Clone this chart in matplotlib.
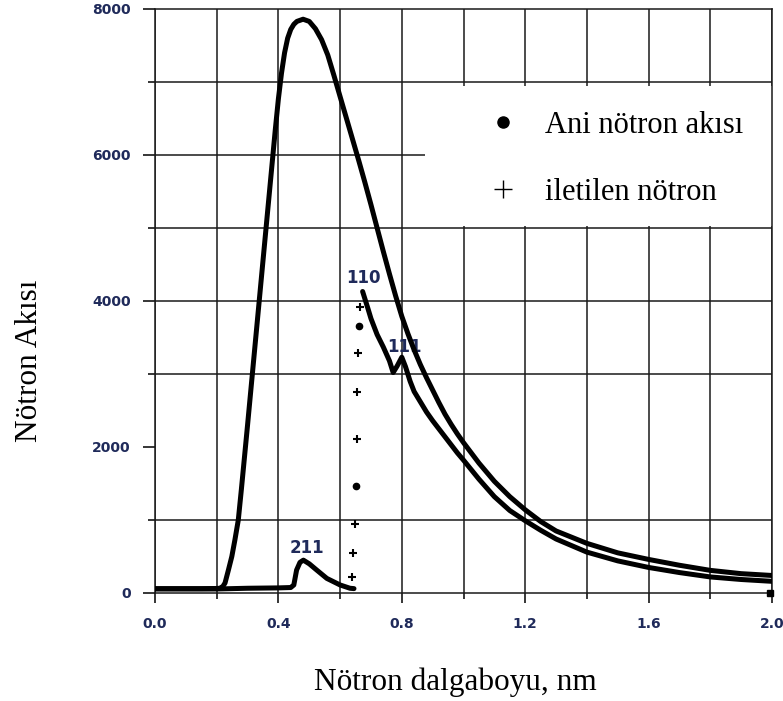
import matplotlib
matplotlib.use("Agg")
import matplotlib.pyplot as plt
from matplotlib.lines import Line2D
from matplotlib.patches import Rectangle
from matplotlib.ticker import MultipleLocator, FormatStrFormatter

# ---------------- data ----------------
# Prompt neutron flux ("Ani nötron akısı")
prompt_x = [0.00, 0.05, 0.10, 0.15, 0.20, 0.21, 0.22, 0.227, 0.238, 0.249, 0.259,
            0.27, 0.28, 0.29, 0.30, 0.31, 0.32, 0.33, 0.34, 0.35, 0.36,
            0.37, 0.38, 0.39, 0.40, 0.41, 0.42, 0.43, 0.44, 0.45, 0.46,
            0.48, 0.50, 0.52, 0.54, 0.56, 0.58, 0.60, 0.62, 0.64, 0.66,
            0.68, 0.70, 0.72, 0.74, 0.76, 0.78, 0.80, 0.82, 0.84, 0.86,
            0.88, 0.90, 0.92, 0.94, 0.96, 0.98, 1.00, 1.05, 1.10, 1.15,
            1.20, 1.25, 1.30, 1.40, 1.50, 1.60, 1.70, 1.80, 1.90, 2.00]
prompt_y = [60, 60, 60, 60, 62, 65, 90, 137, 315, 500, 727,
            1000, 1420, 1860, 2300, 2750, 3200, 3650, 4100, 4550, 5000,
            5450, 5900, 6350, 6770, 7120, 7400, 7600, 7720, 7790, 7830,
            7860, 7830, 7730, 7580, 7370, 7090, 6800, 6510, 6220, 5930,
            5630, 5320, 5000, 4680, 4370, 4070, 3790, 3550, 3330, 3130,
            2950, 2780, 2610, 2450, 2310, 2180, 2060, 1780, 1530, 1320,
            1140, 980, 850, 680, 550, 460, 380, 310, 265, 240]

# Transmitted neutrons ("iletilen nötron") - below the 110 Bragg edge
trans_low_x = [0.00, 0.10, 0.20, 0.30, 0.40, 0.44, 0.45, 0.459, 0.470, 0.481,
               0.500, 0.524, 0.557, 0.600, 0.632, 0.645]
trans_low_y = [55, 55, 55, 65, 70, 75, 110, 315, 420, 450,
               400, 315, 200, 110, 65, 60]
# Transmitted neutrons - above the 110 Bragg edge
trans_high_x = [0.673, 0.69, 0.70, 0.72, 0.74, 0.76, 0.772, 0.785, 0.80, 0.812,
                0.827, 0.84, 0.86, 0.88, 0.90, 0.92, 0.94, 0.96, 0.98, 1.00,
                1.05, 1.10, 1.15, 1.20, 1.25, 1.30, 1.40, 1.50, 1.60, 1.70,
                1.80, 1.90, 2.00]
trans_high_y = [4130, 3900, 3760, 3540, 3370, 3180, 3020, 3110, 3230, 3100,
                2900, 2760, 2620, 2480, 2360, 2250, 2140, 2030, 1920, 1820,
                1560, 1320, 1130, 990, 860, 740, 560, 440, 350, 280,
                220, 185, 160]
# isolated points on the Bragg edge
edge_plus_x = [0.665, 0.659, 0.656, 0.654, 0.648, 0.643, 0.640]
edge_plus_y = [3920, 3290, 2760, 2110, 940, 548, 224]
edge_dot_x = [0.661, 0.651]
edge_dot_y = [3660, 1470]
end_x = [1.995]
end_y = [0]

# Bragg peak labels
peak_labels = ["110", "111", "211"]
peak_x = [0.677, 0.807, 0.494]
peak_y = [4320, 3375, 617]

legend_labels = ["Ani nötron akısı", "iletilen nötron"]

# ---------------- figure ----------------
W, H = 783, 701
fig = plt.figure(figsize=(W / 100, H / 100), dpi=100)
ax = fig.add_axes([155 / W, 1 - 593 / H, 617 / W, 584 / H])

ax.set_xlim(0, 2.0)
ax.set_ylim(0, 8000)
ax.xaxis.set_major_locator(MultipleLocator(0.4))
ax.xaxis.set_minor_locator(MultipleLocator(0.2))
ax.yaxis.set_major_locator(MultipleLocator(2000))
ax.yaxis.set_minor_locator(MultipleLocator(1000))
ax.xaxis.set_major_formatter(FormatStrFormatter("%.1f"))
ax.yaxis.set_major_formatter(FormatStrFormatter("%d"))

grid_kw = dict(color="#1a1a1a", linewidth=1.1, zorder=0.5)
ax.set_axisbelow(True)
ax.grid(True, axis="x", which="both", color="#1a1a1a", linewidth=1.1)
# horizontal grid lines as in the original (no line at 2000, 6000 stops at the legend)
for lvl in [1000, 3000, 4000, 5000, 7000]:
    ax.axhline(lvl, **grid_kw)
ax.axhline(6000, xmin=0, xmax=0.4376, **grid_kw)

for s in ax.spines.values():
    s.set_linewidth(1.1)
    s.set_color("#1a1a1a")

tick_color = "#1f2a5a"
ax.tick_params(axis="x", which="major", direction="out", length=7.2, width=1.1,
               pad=10, labelsize=10, labelcolor=tick_color)
ax.tick_params(axis="x", which="minor", direction="out", length=4.3, width=1.1)
ax.tick_params(axis="y", which="major", direction="out", length=8.6, width=1.1,
               pad=9, labelsize=10, labelcolor=tick_color)
ax.tick_params(axis="y", which="minor", direction="out", length=5, width=1.1)
for lab in ax.get_xticklabels() + ax.get_yticklabels():
    lab.set_fontweight("bold")
    lab.set_family("DejaVu Sans")

# white legend area hiding the grid
ax.add_patch(Rectangle((0.875, 5030), 1.2, 1920, facecolor="white",
                       edgecolor="none", zorder=1))

# curves
lw = 3.6
line_kw = dict(color="black", lw=lw, solid_joinstyle="round",
               solid_capstyle="round", zorder=3)
ax.plot(prompt_x, prompt_y, **line_kw)
ax.plot(trans_low_x, trans_low_y, **line_kw)
ax.plot(trans_high_x, trans_high_y, **line_kw)
ax.plot(edge_plus_x, edge_plus_y, ls="none", marker="+", ms=6, mew=1.5,
        color="black", zorder=3)
ax.plot(edge_dot_x, edge_dot_y, ls="none", marker="o", ms=4.5, color="black",
        zorder=3)
ax.plot(end_x, end_y, ls="none", marker="s", ms=4.5, color="black", zorder=3,
        clip_on=False)

for t, px, py in zip(peak_labels, peak_x, peak_y):
    ax.text(px, py, t, ha="center", va="center", fontsize=12,
            fontweight="bold", color=tick_color, family="DejaVu Sans", zorder=2)

handles = [Line2D([], [], ls="none", marker="o", ms=8, color="black"),
           Line2D([], [], ls="none", marker="+", ms=13, mew=1.0, color="black")]
ax.legend(handles, legend_labels, loc="upper left",
          bbox_to_anchor=(488 / W, 1 - 111 / H), bbox_transform=fig.transFigure,
          frameon=False, borderpad=0, borderaxespad=0, handlelength=1.0,
          handletextpad=0.85, labelspacing=1.24,
          prop={"family": "Liberation Serif", "size": 22})

fig.text(30 / W, 1 - 361 / H, "Nötron Akısı", rotation=90, ha="center",
         va="center", family="Liberation Serif", fontsize=22.5)
fig.text(455 / W, 1 - 690 / H, "Nötron dalgaboyu, nm", ha="center",
         va="baseline", family="Liberation Serif", fontsize=22.5)

fig.savefig("out.png", dpi=100, facecolor="white")
